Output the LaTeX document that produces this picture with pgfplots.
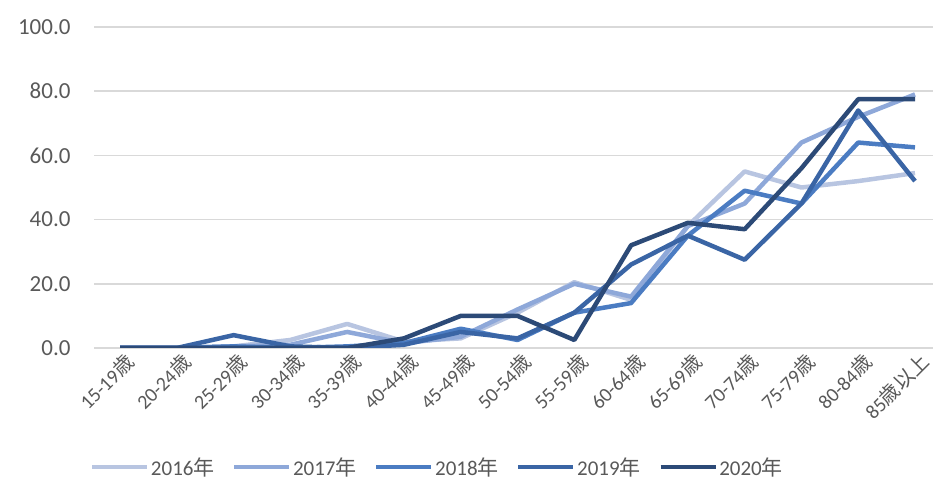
\documentclass[border=0pt]{standalone}
\usepackage{fontspec}
\setmainfont{Carlito}
\newfontfamily\cjk{Noto Sans CJK JP}
\usepackage{pgfplots}
\pgfplotsset{compat=1.18}
\definecolor{c16}{HTML}{B8C5E1}
\definecolor{c17}{HTML}{8EA8D9}
\definecolor{c18}{HTML}{4B7CC2}
\definecolor{c19}{HTML}{3A65A5}
\definecolor{c20}{HTML}{2C4A77}
\definecolor{txt}{HTML}{595959}
\definecolor{grd}{HTML}{D9D9D9}
\begin{document}
\begin{tikzpicture}
\begin{axis}[
  at={(94bp,135bp)}, anchor=south west,
  scale only axis, width=839bp, height=321bp,
  xmin=-0.458, xmax=14.317, ymin=0, ymax=100,
  axis line style={draw=none},
  tick style={draw=none},
  major tick length=0pt,
  ytick={0,20,40,60,80,100},
  ymajorgrids, grid style={line width=1.6bp, color=grd},
  xtick={0,...,14},
  xticklabels={15-19{\cjk 歳},20-24{\cjk 歳},25-29{\cjk 歳},30-34{\cjk 歳},35-39{\cjk 歳},40-44{\cjk 歳},45-49{\cjk 歳},50-54{\cjk 歳},55-59{\cjk 歳},60-64{\cjk 歳},65-69{\cjk 歳},70-74{\cjk 歳},75-79{\cjk 歳},80-84{\cjk 歳},85{\cjk 歳以上}},
  x tick label style={rotate=45, anchor=north east, font=\fontsize{20bp}{22bp}\selectfont, text=txt, inner sep=1bp, xshift=1bp, yshift=-4bp},
  yticklabel style={font=\fontsize{23bp}{26bp}\selectfont, text=txt, xshift=-20bp},
  yticklabel={\pgfmathprintnumber[fixed,fixed zerofill,precision=1,assume math mode=true]{\tick}},
  legend columns=5,
  legend style={draw=none, at={(0.409,-0.371)}, anchor=center,
    font=\fontsize{21bp}{24bp}\selectfont, text=txt,
    /tikz/every even column/.append style={column sep=16bp},
    nodes={inner sep=1.5bp}},
  legend image code/.code={\draw[#1] (0bp,0bp) -- (55bp,0bp);},
  every axis plot/.append style={line width=4.5bp, line join=round},
]
\addplot[c16] coordinates {(0,0) (1,0) (2,0.5) (3,2.5) (4,7.5) (5,2) (6,3) (7,11) (8,20.5) (9,15) (10,38) (11,55) (12,50) (13,52) (14,54.5)};
\addlegendentry{2016{\cjk 年}}
\addplot[c17] coordinates {(0,0) (1,0) (2,0.5) (3,1) (4,5) (5,1.5) (6,3.5) (7,12) (8,20) (9,16) (10,38) (11,45) (12,64) (13,72) (14,79)};
\addlegendentry{2017{\cjk 年}}
\addplot[c18] coordinates {(0,0) (1,0) (2,0.5) (3,0) (4,0.5) (5,1.5) (6,6) (7,2.5) (8,11) (9,14) (10,35) (11,49) (12,45) (13,64) (14,62.5)};
\addlegendentry{2018{\cjk 年}}
\addplot[c19] coordinates {(0,0) (1,0) (2,4) (3,0.5) (4,0) (5,1) (6,5) (7,3) (8,11) (9,26) (10,35) (11,27.5) (12,45) (13,74) (14,52)};
\addlegendentry{2019{\cjk 年}}
\addplot[c20] coordinates {(0,0) (1,0) (2,0) (3,0) (4,0) (5,3) (6,10) (7,10) (8,2.5) (9,32) (10,39) (11,37) (12,56) (13,77.5) (14,77.5)};
\addlegendentry{2020{\cjk 年}}
\end{axis}
\pgfresetboundingbox
\useasboundingbox (0,0) rectangle (933bp,483bp);
\end{tikzpicture}
\end{document}
